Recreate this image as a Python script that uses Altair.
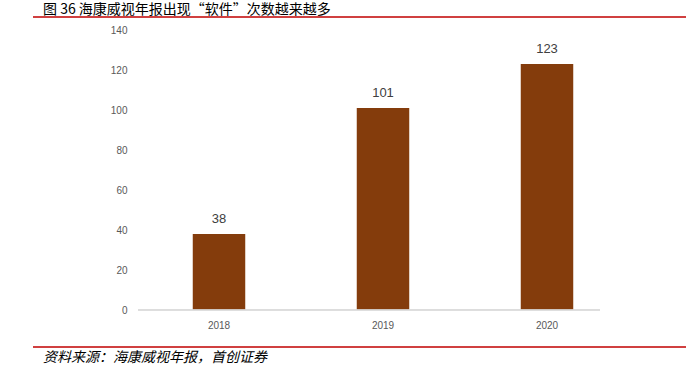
import altair as alt
import pandas as pd

years = ["2018", "2019", "2020"]
counts = [38, 101, 123]
y_ticks = [0, 20, 40, 60, 80, 100, 120, 140]
title_text = "图 36 海康威视年报出现“软件”次数越来越多"
source_text = "资料来源：海康威视年报，首创证券"

df = pd.DataFrame({"year": years, "count": counts})

x_enc = alt.X("year:N", sort=years,
              scale=alt.Scale(paddingInner=0.68, paddingOuter=0.34),
              axis=alt.Axis(title=None, labelAngle=0, domain=False, ticks=False,
                            labelFontSize=10, labelColor="#595959", labelPadding=10,
                            labelFont="Liberation Sans"))
y_axis = alt.Axis(title=None, values=y_ticks, grid=False, domain=False, ticks=False,
                  labelOverlap=False, labelBound=False, labelFontSize=10,
                  labelColor="#595959", labelPadding=10, labelFont="Liberation Sans")
y_enc = alt.Y("count:Q", scale=alt.Scale(domain=[0, 140], nice=False), axis=y_axis)

base = alt.Chart(df)
bars = base.mark_bar(color="#843C0C").encode(x=x_enc, y=y_enc)
labels = base.mark_text(dy=-15, fontSize=13, color="#404040", font="Liberation Sans").encode(
    x=x_enc, y=y_enc, text="count:Q")
axis_line = base.mark_rule(color="#D9D9D9", strokeWidth=1).encode(
    x=alt.value(1), x2=alt.value(463), y=alt.datum(0, axis=y_axis))

deco = pd.DataFrame({"t": [title_text]})
top_rule = alt.Chart(deco).mark_rule(color="#C00000", strokeWidth=1.5).encode(
    x=alt.value(-104), x2=alt.value(549), y=alt.value(-13))
bottom_rule = alt.Chart(deco).mark_rule(color="#C00000", strokeWidth=1.5).encode(
    x=alt.value(-104), x2=alt.value(549), y=alt.value(317))
title = alt.Chart(deco).mark_text(align="left", baseline="middle", fontSize=14,
                                  font="Noto Sans CJK SC", color="#000000").encode(
    x=alt.value(-94), y=alt.value(-20), text="t:N")
source = alt.Chart(pd.DataFrame({"t": [source_text]})).mark_text(
    align="left", baseline="middle", fontSize=14, fontStyle="italic",
    font="Noto Sans CJK SC", color="#000000").encode(
    x=alt.value(-94), y=alt.value(328), text="t:N")

chart = alt.layer(bars, axis_line, labels, top_rule, bottom_rule, title, source).properties(
    width=492, height=280,
    autosize=alt.AutoSizeParams(type="none"),
    padding={"left": 137, "top": 30, "right": 57, "bottom": 68},
).configure(background="white").configure_view(stroke=None)

chart.save("out.html", embed_options={"renderer": "svg", "actions": False})
